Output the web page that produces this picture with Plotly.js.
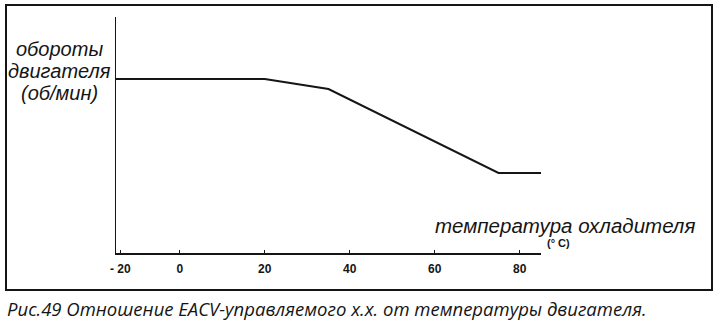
<!DOCTYPE html>
<html><head><meta charset="utf-8">
<script src="https://cdn.plot.ly/plotly-3.0.1.min.js"></script>
<style>html,body{margin:0;padding:0;background:#fff}#chart{width:720px;height:323px}</style>
</head><body><div id="chart"></div>
<script>
// Data (schematic curve, y in arbitrary rpm units)
const temperature = [-15, 20, 35, 75, 85];
const engineSpeed = [1740, 1740, 1640, 800, 800];
const tickValues = [-14, 0, 20, 40, 60, 80];
const tickLabels = ['- 20', '0', '20', '40', '60', '80'];
const yTitleLines = ['обороты', 'двигателя', '(об/мин)'];
const xTitle = 'температура охладителя';
const xUnit = '(° C)';
const caption = 'Рис.49 Отношение EACV-управляемого х.х. от температуры двигателя.';

const W = 720, H = 323;
const L = 116, R = 541, T = 17, B = 253;
const px = x => (x - L) / (R - L);
const py = y => (B - y) / (B - T);

const ink = '#151515';
const annotations = [];
const yLineCenters = [49, 71, 93];
yTitleLines.forEach((t, i) => annotations.push({
  text: t, xref: 'paper', yref: 'paper', x: px(60), y: py(yLineCenters[i]),
  xanchor: 'center', yanchor: 'middle', showarrow: false,
  font: {family: 'Liberation Sans, Arial, sans-serif', size: 20, style: 'italic', color: ink}
}));
annotations.push({
  text: xTitle, xref: 'paper', yref: 'paper', x: px(697), y: py(225),
  xanchor: 'right', yanchor: 'middle', showarrow: false,
  font: {family: 'Liberation Sans, Arial, sans-serif', size: 20.5, style: 'italic', color: ink}
});
annotations.push({
  text: xUnit, xref: 'paper', yref: 'paper', x: px(558), y: py(243),
  xanchor: 'center', yanchor: 'middle', showarrow: false,
  font: {family: 'Liberation Sans, Arial, sans-serif', size: 11, weight: 'bold', color: ink}
});
annotations.push({
  text: caption, xref: 'paper', yref: 'paper', x: px(5), y: py(308),
  xanchor: 'left', yanchor: 'middle', showarrow: false,
  font: {family: 'Open Sans, sans-serif', size: 18.5, style: 'italic', color: ink}
});

const trace = {
  x: temperature, y: engineSpeed, type: 'scatter', mode: 'lines',
  line: {color: ink, width: 2}, hoverinfo: 'skip'
};

const layout = {
  width: W, height: H,
  margin: {l: L, r: W - R, t: T, b: H - B, pad: 0},
  paper_bgcolor: '#fff', plot_bgcolor: '#fff',
  showlegend: false,
  xaxis: {
    range: [-15, 85], showline: true, linecolor: ink, linewidth: 1.5,
    ticks: 'inside', ticklen: 3, tickwidth: 1, tickcolor: ink,
    tickmode: 'array', tickvals: tickValues, ticktext: tickLabels,
    ticklabelstandoff: 4,
    tickfont: {family: 'Liberation Sans, Arial, sans-serif', size: 12, weight: 'bold', color: ink},
    showgrid: false, zeroline: false, fixedrange: true
  },
  yaxis: {
    range: [0, 2360], showline: true, linecolor: ink, linewidth: 1.5,
    ticks: '', showticklabels: false, showgrid: false, zeroline: false, fixedrange: true
  },
  annotations: annotations,
  shapes: [{
    type: 'rect', xref: 'paper', yref: 'paper',
    x0: px(6), x1: px(712), y0: py(290), y1: py(5),
    line: {color: ink, width: 2}, fillcolor: 'rgba(0,0,0,0)', layer: 'below'
  }]
};

Plotly.newPlot('chart', [trace], layout, {staticPlot: true, displayModeBar: false});
</script>
</body></html>
